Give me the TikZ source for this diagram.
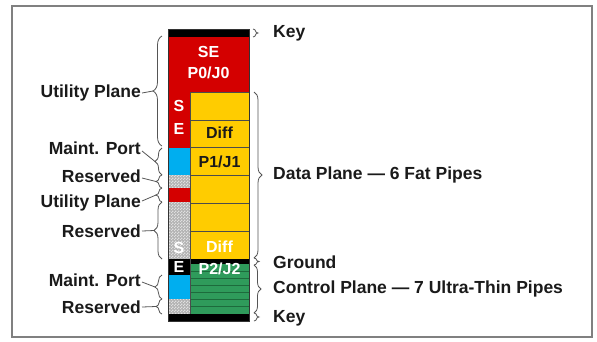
\documentclass[tikz,border=0pt]{standalone}
\usepackage{fontspec}
\setmainfont{Liberation Sans}
\usetikzlibrary{decorations.pathreplacing,patterns}
\definecolor{cred}{HTML}{D40000}
\definecolor{cyel}{HTML}{FFCC00}
\definecolor{cblue}{HTML}{00AEEF}
\definecolor{cgreen}{HTML}{2F9B5B}
\definecolor{cgreenline}{HTML}{1D6B3C}
\definecolor{ctext}{HTML}{1A1A1A}
\definecolor{cbrace}{HTML}{555555}
\pgfdeclarepatternformonly{finecheck}{\pgfpointorigin}{\pgfpoint{3pt}{3pt}}{\pgfpoint{3pt}{3pt}}{%
  \pgfpathrectangle{\pgfpointorigin}{\pgfpoint{1.5pt}{1.5pt}}%
  \pgfpathrectangle{\pgfpoint{1.5pt}{1.5pt}}{\pgfpoint{1.5pt}{1.5pt}}%
  \pgfusepath{fill}}
\begin{document}
\begin{tikzpicture}[x=1pt,y=-1pt,
  lbl/.style={font=\fontsize{17.5}{18}\selectfont\bfseries, text=ctext, inner sep=1pt},
  wlbl/.style={font=\fontsize{16}{17}\selectfont\bfseries, text=white, inner sep=0pt},
  blbl/.style={font=\fontsize{16}{17}\selectfont\bfseries, text=ctext, inner sep=0pt},
  brc/.style={decorate, decoration={brace, amplitude=#1}, draw=cbrace, line width=0.8pt},
  brc/.default=7pt,
  seg/.style={draw=black!70, line width=0.6pt},
  conn/.style={draw=cbrace, line width=0.8pt},
  chkbase/.style={fill=gray!60},
  chk/.style={pattern=finecheck, pattern color=gray!25}]
\useasboundingbox (0,0) rectangle (597,341);
% frame
\draw[black!50, line width=2pt] (12,6) rectangle (592,337);

% ---- column ----
\fill[black] (168,29) rectangle (249,37);
\fill[cred] (168,37) rectangle (249,92);
\node[wlbl] (se) at (208.5,52) {SE};
\node[wlbl] (p0) at (208.5,73) {P0/J0};

% narrow column
\fill[cred] (168,92) rectangle (190,148);
\node[wlbl] (s1) at (179,106) {S};
\node[wlbl] (e1) at (179,129) {E};
\fill[cblue] (168,148) rectangle (190,175);
\fill[chkbase] (168,175) rectangle (190,188);
\fill[chk] (168,175) rectangle (190,188);
\fill[cred] (168,188) rectangle (190,202);
\fill[chkbase] (168,202) rectangle (190,259);
\fill[chk] (168,202) rectangle (190,259);
\node[wlbl] (s2) at (179,248) {S};
\fill[black] (168,259) rectangle (190,275);
\node[wlbl] (e2) at (179,267) {E};
\fill[cblue] (168,275) rectangle (190,299);
\fill[chkbase] (168,299) rectangle (190,314);
\fill[chk] (168,299) rectangle (190,314);

% wide column: data plane
\foreach \i in {0,...,5}
  \filldraw[fill=cyel, seg] (190,{92+\i*27.833}) rectangle (249,{92+(\i+1)*27.833});
\node[blbl] (d1) at (219.5,133) {Diff};
\node[blbl] (p1) at (219.5,162) {P1/J1};
\node[wlbl] (d2) at (219.5,247) {Diff};

% ground + control plane
\fill[black] (190,259) rectangle (249,264);
\fill[cgreen] (190,264) rectangle (249,314);
\foreach \k in {1,...,6}
  \draw[cgreenline, line width=0.8pt] (190,{264+\k*7.14}) -- (249,{264+\k*7.14});
\node[wlbl] (p2) at (219.5,268.5) {P2/J2};

\fill[black] (168,314) rectangle (249,321);
\draw[black!80, line width=0.6pt] (168,29) rectangle (249,321);
\draw[black!70, line width=0.6pt] (190,92) -- (190,314);

% ---- right braces ----
\draw[brc=5pt] (253,29) -- (253,37);
\node[lbl, anchor=west] (key1) at (272,33) {Key};
\draw[brc=8pt] (254,92) -- (254,258);
\node[lbl, anchor=west] (data) at (272,175) {Data Plane — 6 Fat Pipes};
\draw[brc=5pt] (254,258) -- (254,265);
\node[lbl, anchor=west] (gnd) at (272,262) {Ground};
\draw[brc=7pt] (254,265) -- (254,313);
\node[lbl, anchor=west] (ctrl) at (272,289) {Control Plane — 7 Ultra-Thin Pipes};
\draw[brc=5pt] (254,313) -- (254,321);
\node[lbl, anchor=west] (key2) at (272,318) {Key};

% ---- left braces ----
\draw[brc=9pt] (162,146) -- (162,36);
\coordinate (t1) at (153,91);
\node[lbl, anchor=east] (up1) at (142,93) {Utility Plane};
\draw[conn] (up1.east) -- (t1);

\draw[brc=7pt] (162,175) -- (162,148);
\coordinate (t2) at (155,161.5);
\node[lbl, anchor=east] (mp1) at (142,148) {Maint. Port};
\draw[conn] ([yshift=-3pt]mp1.east) -- (t2);

\draw[brc=6pt] (162,188) -- (162,175);
\coordinate (t3) at (156,181.5);
\node[lbl, anchor=east] (rs1) at (142,176) {Reserved};
\draw[conn] ([yshift=-2pt]rs1.east) -- (t3);

\draw[brc=6pt] (162,202) -- (162,188);
\coordinate (t4) at (156,195);
\node[lbl, anchor=east] (up2) at (142,203) {Utility Plane};
\draw[conn] ([yshift=2pt]up2.east) -- (t4);

\draw[brc=8pt] (162,259) -- (162,202);
\coordinate (t5) at (154,230.5);
\node[lbl, anchor=east] (rs2) at (142,231) {Reserved};
\draw[conn] (rs2.east) -- (t5);

\draw[brc=7pt] (162,299) -- (162,275);
\coordinate (t6) at (155,287);
\node[lbl, anchor=east] (mp2) at (142,280) {Maint. Port};
\draw[conn] ([yshift=-2pt]mp2.east) -- (t6);

\draw[brc=6pt] (162,314) -- (162,299);
\coordinate (t7) at (156,306.5);
\node[lbl, anchor=east] (rs3) at (142,307) {Reserved};
\draw[conn] (rs3.east) -- (t7);
\end{tikzpicture}
\end{document}
